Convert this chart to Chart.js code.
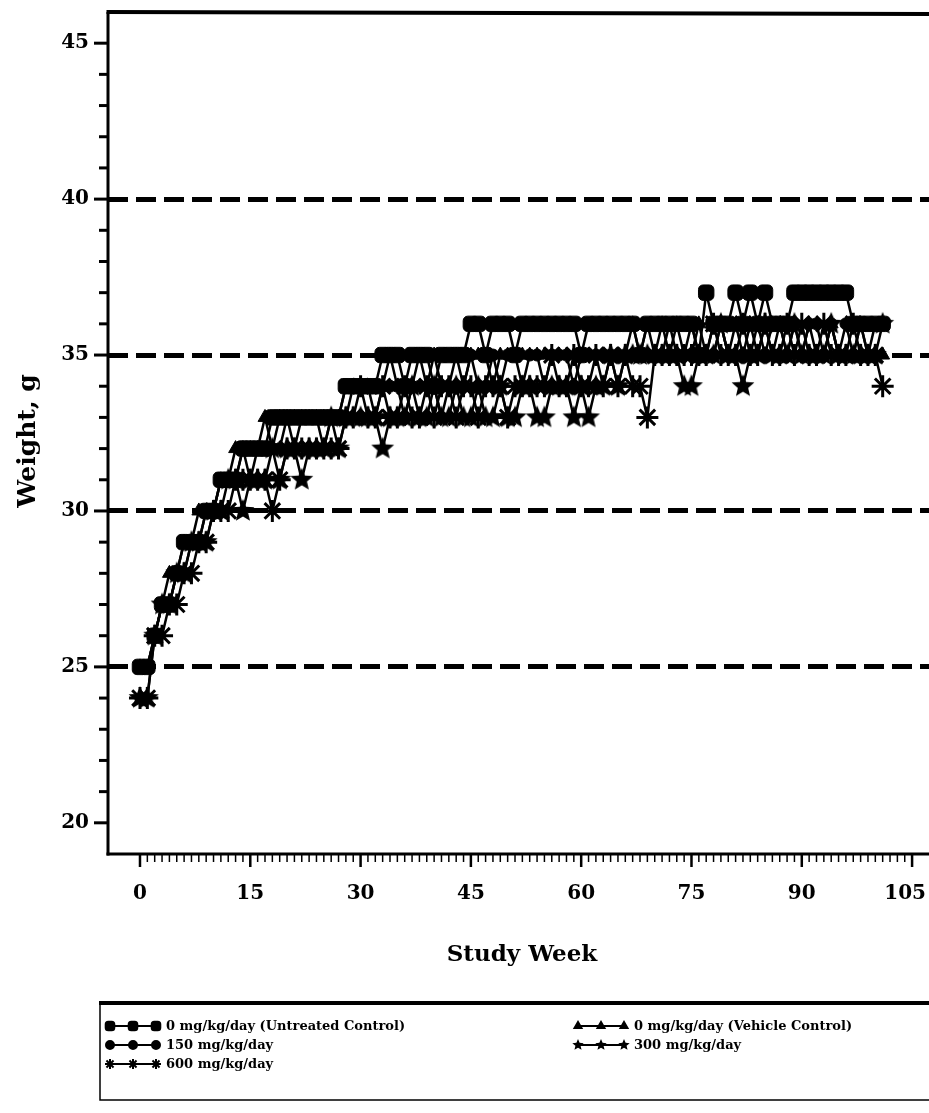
<!DOCTYPE html>
<html>
<head>
<meta charset="utf-8">
<script src="https://cdn.jsdelivr.net/npm/chart.js@4.4.0/dist/chart.umd.min.js"></script>
<style>
  html, body { margin: 0; padding: 0; background: #fff; overflow: hidden; }
  canvas { display: block; }
</style>
</head>
<body>
<canvas id="weights" width="929" height="1113"></canvas>
<script>
// study weeks (x values)
const weeks = [
  0, 1, 2, 3, 4, 5, 6, 7, 8, 9,
  10, 11, 12, 13, 14, 15, 16, 17, 18, 19,
  20, 21, 22, 23, 24, 25, 26, 27, 28, 29,
  30, 31, 32, 33, 34, 35, 36, 37, 38, 39,
  40, 41, 42, 43, 44, 45, 46, 47, 48, 49,
  50, 51, 52, 53, 54, 55, 56, 57, 58, 59,
  60, 61, 62, 63, 64, 65, 66, 67, 68, 69,
  70, 71, 72, 73, 74, 75, 76, 77, 78, 79,
  80, 81, 82, 83, 84, 85, 86, 87, 88, 89,
  90, 91, 92, 93, 94, 95, 96, 97, 98, 99,
  100, 101
];

// mean body weight, g
const untreated = [
  25, 25, 26, 27, 27, 28, 29, 29, 29, 30,
  30, 31, 31, 31, 32, 32, 32, 32, 33, 33,
  33, 33, 33, 33, 33, 33, 33, 33, 34, 34,
  34, 34, 34, 35, 35, 35, 34, 35, 35, 35,
  34, 35, 35, 35, 35, 36, 36, 35, 36, 36,
  36, 35, 36, 36, 36, 36, 36, 36, 36, 36,
  35, 36, 36, 36, 36, 36, 36, 36, 35, 36,
  36, 36, 36, 36, 36, 36, 35, 37, 36, 36,
  36, 37, 36, 37, 36, 37, 36, 36, 36, 37,
  37, 37, 37, 37, 37, 37, 37, 36, 36, 36,
  36, 36
];
const vehicle = [
  25, 25, 26, 27, 28, 28, 29, 29, 30, 30,
  30, 31, 31, 32, 32, 32, 32, 33, 32, 33,
  33, 33, 33, 33, 33, 33, 33, 33, 34, 34,
  34, 34, 34, 34, 35, 34, 34, 34, 35, 34,
  35, 34, 34, 35, 34, 35, 35, 35, 34, 35,
  35, 35, 35, 35, 35, 35, 35, 35, 35, 35,
  35, 35, 35, 35, 35, 35, 35, 36, 35, 35,
  35, 36, 35, 36, 35, 35, 36, 35, 35, 36,
  35, 35, 35, 36, 35, 35, 35, 36, 35, 35,
  35, 36, 35, 35, 36, 35, 35, 35, 36, 35,
  35, 35
];
const dose150 = [
  25, 25, 26, 27, 27, 28, 28, 29, 29, 30,
  30, 31, 31, 31, 32, 31, 32, 32, 32, 32,
  33, 32, 33, 33, 33, 32, 33, 33, 33, 34,
  34, 34, 33, 34, 34, 34, 33, 34, 34, 34,
  34, 33, 34, 34, 34, 35, 34, 34, 35, 34,
  35, 35, 34, 35, 35, 34, 35, 35, 35, 34,
  35, 35, 35, 35, 35, 35, 35, 35, 35, 36,
  35, 35, 36, 35, 35, 36, 35, 35, 36, 36,
  35, 36, 35, 35, 36, 35, 36, 36, 35, 36,
  35, 36, 36, 35, 36, 35, 36, 35, 36, 35,
  36, 36
];
const dose300 = [
  24, 24, 26, 27, 27, 28, 28, 29, 29, 29,
  30, 30, 31, 31, 30, 31, 31, 31, 32, 31,
  32, 32, 31, 32, 32, 32, 33, 32, 33, 33,
  33, 33, 33, 32, 33, 33, 33, 34, 33, 33,
  34, 33, 33, 34, 33, 33, 34, 33, 33, 34,
  33, 33, 34, 34, 33, 33, 34, 34, 34, 33,
  34, 33, 34, 34, 35, 34, 35, 35, 35, 35,
  35, 35, 35, 35, 34, 34, 35, 35, 35, 36,
  35, 35, 34, 35, 35, 36, 35, 35, 35, 36,
  35, 35, 35, 35, 36, 35, 35, 35, 35, 35,
  35, 36
];
const dose600 = [
  24, 24, 26, 26, 27, 27, 28, 28, 29, 29,
  30, 30, 30, 31, 31, 31, 31, 31, 30, 31,
  32, 32, 32, 32, 32, 32, 32, 32, 33, 33,
  34, 33, 33, 34, 33, 33, 34, 33, 33, 34,
  33, 34, 34, 33, 34, 34, 33, 34, 34, 34,
  33, 34, 34, 34, 34, 34, 35, 34, 34, 35,
  34, 34, 35, 34, 35, 34, 35, 34, 34, 33,
  35, 35, 35, 35, 35, 35, 35, 35, 36, 35,
  35, 35, 36, 35, 35, 36, 35, 35, 36, 35,
  36, 35, 35, 36, 35, 35, 35, 36, 35, 35,
  35, 34
];

const seriesLabels = [
  '0 mg/kg/day (Untreated Control)',
  '0 mg/kg/day (Vehicle Control)',
  '150 mg/kg/day',
  '300 mg/kg/day',
  '600 mg/kg/day'
];
const yTickLabels = [20, 25, 30, 35, 40, 45];
const xTickLabels = [0, 15, 30, 45, 60, 75, 90, 105];
const dashedAt = [25, 30, 35, 40];

const INK = '#000';
const SERIF = '"DejaVu Serif", "Liberation Serif", serif';

function starImage(r) {
  const c = document.createElement('canvas');
  c.width = c.height = Math.ceil(r * 2 + 2);
  const g = c.getContext('2d');
  g.translate(c.width / 2, c.height / 2);
  g.beginPath();
  for (let i = 0; i < 10; i++) {
    const rad = i % 2 ? r * 0.45 : r;
    const a = -Math.PI / 2 + i * Math.PI / 5;
    g.lineTo(rad * Math.cos(a), rad * Math.sin(a));
  }
  g.closePath();
  g.fillStyle = INK;
  g.fill();
  return c;
}

const bigStar = starImage(12);
const smallStar = starImage(6);

const toXY = vals => vals.map((v, i) => ({ x: weeks[i], y: v }));

function ds(label, vals, style, radius, bw) {
  return {
    label,
    data: toXY(vals),
    borderColor: INK,
    borderWidth: 2.5,
    pointStyle: style,
    pointRadius: radius,
    pointBorderWidth: bw,
    pointBackgroundColor: INK,
    pointBorderColor: INK,
    tension: 0
  };
}

// axes, ticks, labels and titles
const frame = {
  id: 'frame',
  afterDraw(chart) {
    const { ctx, chartArea: a, scales: { x, y } } = chart;
    const line = (x1, y1, x2, y2) => { ctx.beginPath(); ctx.moveTo(x1, y1); ctx.lineTo(x2, y2); ctx.stroke(); };
    ctx.save();
    ctx.strokeStyle = INK;
    ctx.fillStyle = INK;

    ctx.lineWidth = 3;
    line(a.left, a.top, a.left, a.bottom + 1.5);
    line(a.left - 1.5, a.bottom, a.right, a.bottom);
    ctx.lineWidth = 4;
    line(a.left - 1.5, a.top, a.right, a.top + 2);

    // y ticks every gram
    ctx.lineWidth = 3;
    for (let v = 20; v <= 45; v++) {
      const py = y.getPixelForValue(v);
      line(a.left - (v % 5 === 0 ? 14 : 9), py, a.left, py);
    }
    // x ticks every week
    for (let w = 0; w <= 105; w++) {
      const px = x.getPixelForValue(w);
      ctx.lineWidth = w % 15 === 0 ? 2.5 : 1.5;
      line(px, a.bottom, px, a.bottom + (w % 15 === 0 ? 13 : 8));
    }

    ctx.font = 'bold 20px ' + SERIF;
    ctx.textBaseline = 'middle';
    ctx.textAlign = 'right';
    yTickLabels.forEach(v => ctx.fillText(String(v), 89, y.getPixelForValue(v)));
    xTickLabels.forEach(v => {
      const px = x.getPixelForValue(v);
      const w = ctx.measureText(String(v)).width;
      // keep the last label inside the page
      const cx = Math.min(px, chart.width - 3 - w / 2);
      ctx.textAlign = 'center';
      ctx.fillText(String(v), cx, 894);
    });

    ctx.textAlign = 'center';
    ctx.font = 'bold 23px ' + SERIF;
    ctx.fillText('Study Week', 522, 955);
    ctx.font = 'bold 25px ' + SERIF;
    ctx.save();
    ctx.translate(28, 441);
    ctx.rotate(-Math.PI / 2);
    ctx.fillText('Weight, g', 0, 0);
    ctx.restore();

    ctx.restore();
  }
};

// boxed legend below the plot
const boxLegend = {
  id: 'boxLegend',
  afterDraw(chart) {
    const { ctx } = chart;
    const H = Chart.helpers;
    const top = 1003, left = 100, bottom = 1100, right = 929;
    const slots = [
      { x: 110, y: 1026 }, { x: 578, y: 1026 },
      { x: 110, y: 1045 }, { x: 578, y: 1045 },
      { x: 110, y: 1064 }
    ];
    const legendPts = [
      { pointStyle: 'rectRounded', radius: 5 },
      { pointStyle: 'triangle', radius: 4 },
      { pointStyle: 'circle', radius: 4 },
      { pointStyle: smallStar, radius: 6 },
      { pointStyle: 'star', radius: 5 }
    ];
    ctx.save();
    ctx.strokeStyle = INK;
    ctx.fillStyle = INK;
    ctx.lineWidth = 4;
    ctx.beginPath(); ctx.moveTo(left - 1, top); ctx.lineTo(right, top); ctx.stroke();
    ctx.lineWidth = 1.5;
    ctx.beginPath(); ctx.moveTo(left, top); ctx.lineTo(left, bottom); ctx.lineTo(right, bottom); ctx.stroke();

    chart.data.datasets.forEach((d, i) => {
      const s = slots[i];
      ctx.lineWidth = 2;
      ctx.beginPath(); ctx.moveTo(s.x, s.y); ctx.lineTo(s.x + 46, s.y); ctx.stroke();
      [0, 23, 46].forEach(dx => {
        const opts = { pointStyle: legendPts[i].pointStyle, radius: legendPts[i].radius, rotation: 0, borderWidth: 1.5 };
        ctx.fillStyle = INK;
        if (H && H.drawPoint) H.drawPoint(ctx, opts, s.x + dx, s.y);
      });
      ctx.fillStyle = INK;
      ctx.font = 'bold 13px ' + SERIF;
      ctx.textAlign = 'left';
      ctx.textBaseline = 'middle';
      ctx.fillText(d.label, s.x + 56, s.y + 1);
    });
    ctx.restore();
  }
};

new Chart(document.getElementById('weights'), {
  type: 'line',
  data: {
    datasets: [
      ds(seriesLabels[0], untreated, 'rectRounded', 9, 1),
      ds(seriesLabels[1], vehicle, 'triangle', 8, 1),
      ds(seriesLabels[2], dose150, 'circle', 6, 1),
      ds(seriesLabels[3], dose300, bigStar, 12, 1),
      ds(seriesLabels[4], dose600, 'star', 11, 3)
    ]
  },
  options: {
    responsive: false,
    animation: false,
    events: [],
    layout: { autoPadding: false, padding: { top: 12, left: 0, right: 0, bottom: 0 } },
    plugins: { legend: { display: false }, tooltip: { enabled: false } },
    scales: {
      x: {
        type: 'linear',
        min: -4.35,
        max: 107.3,
        ticks: { display: false },
        grid: { display: false },
        border: { display: false },
        afterFit: s => { s.height = 1113 - 854; }
      },
      y: {
        min: 19,
        max: 46,
        afterBuildTicks: s => { s.ticks = dashedAt.map(v => ({ value: v })); },
        ticks: { display: false },
        grid: { color: INK, lineWidth: 5, drawTicks: false },
        border: { display: false, dash: [20, 8] },
        afterFit: s => { s.width = 108; }
      }
    }
  },
  plugins: [frame, boxLegend]
});
</script>
</body>
</html>
